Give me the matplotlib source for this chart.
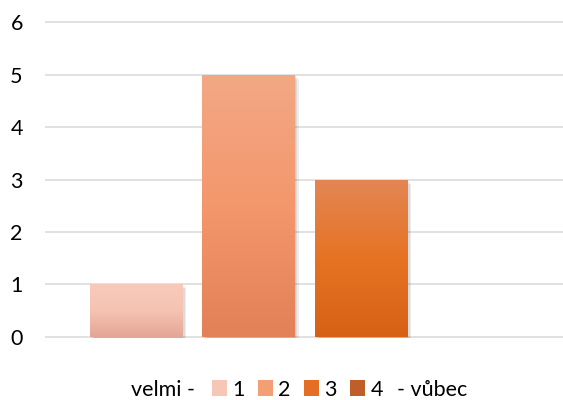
import numpy as np
import matplotlib
matplotlib.use("Agg")
import matplotlib.pyplot as plt
from matplotlib.colors import LinearSegmentedColormap
from matplotlib.patches import Patch
import matplotlib.patheffects as pe

plt.rcParams['font.family'] = ['Lato', 'DejaVu Sans']

# data
series_labels = ["1", "2", "3", "4"]
values = [1, 5, 3, 0]
y_ticks = [0, 1, 2, 3, 4, 5, 6]
left_label = "velmi -"
right_label = "- vůbec"

# gradient colours (bottom, middle, top) per series
grad_colors = [
    [(228/255, 166/255, 148/255), (246/255, 195/255, 178/255), (248/255, 202/255, 186/255)],
    [(226/255, 128/255, 88/255), (244/255, 151/255, 108/255), (242/255, 168/255, 132/255)],
    [(214/255, 97/255, 22/255), (230/255, 115/255, 36/255), (227/255, 134/255, 84/255)],
    [(175/255, 80/255, 25/255), (192/255, 95/255, 40/255), (200/255, 115/255, 70/255)],
]
legend_colors = ["#F6C7B7", "#F39E74", "#E46E24", "#BE5F2A"]

W, H = 563, 400
fig = plt.figure(figsize=(W/100, H/100), dpi=100)

# axes placement (pixels)
px_left, px_right = 45, 563
y0_px, y6_px = 336.7, 22.3
ylo, yhi = -0.02, 6.02
unit = (y0_px - y6_px) / 6
bottom_px = y0_px + (0 - ylo) * unit
top_px = y6_px - (yhi - 6) * unit
ax = fig.add_axes([px_left/W, 1 - bottom_px/H, (px_right-px_left)/W, (bottom_px-top_px)/H])

x = np.arange(len(values))
xlo, xhi = -0.809, 3.796
bar_w = 0.818

ax.set_xlim(xlo, xhi)
ax.set_ylim(ylo, yhi)
ax.set_yticks(y_ticks)
ax.set_xticks([])
for s in ax.spines.values():
    s.set_visible(False)
ax.yaxis.grid(True, color="#D9D9D9", linewidth=1.1)
ax.set_axisbelow(True)
fs = 15.5
ax.tick_params(axis='y', length=0, pad=16, labelsize=fs, labelcolor="#000000")

shadow = [pe.SimplePatchShadow(offset=(o, -o), shadow_rgbFace=(0.3, 0.3, 0.3), alpha=0.10) for o in (1.0, 2.0, 3.0)]

bars = ax.bar(x, values, width=bar_w, color=[c[1] for c in grad_colors], zorder=3)
grad = np.linspace(0, 1, 256).reshape(-1, 1)
for b, cols, v in zip(bars, grad_colors, values):
    if v <= 0:
        b.set_visible(False)
        continue
    b.set_path_effects(shadow + [pe.Normal()])
    cmap = LinearSegmentedColormap.from_list("g", cols)
    bx, by = b.get_x(), b.get_y()
    bw, bh = b.get_width(), b.get_height()
    im = ax.imshow(grad, extent=(bx, bx + bw, by, by + bh), origin='lower',
                   cmap=cmap, aspect='auto', zorder=4, interpolation='bicubic')
    im.set_clip_path(b)

ax.set_xlim(xlo, xhi)
ax.set_ylim(ylo, yhi)

handles = [Patch(facecolor=c, edgecolor='none') for c in legend_colors]
leg = fig.legend(handles, series_labels, ncol=4, loc='center',
                 bbox_to_anchor=(297.5/W, 1 - 389.5/H), frameon=False,
                 fontsize=fs, handlelength=0.70, handleheight=0.70,
                 handletextpad=0.25, columnspacing=0.62, borderpad=0, borderaxespad=0)
fig.text(195/W, 1 - 389.5/H, left_label, ha='right', va='center', fontsize=fs)
fig.text(397/W, 1 - 389.5/H, right_label, ha='left', va='center', fontsize=fs)

fig.savefig("out.png", dpi=100)
